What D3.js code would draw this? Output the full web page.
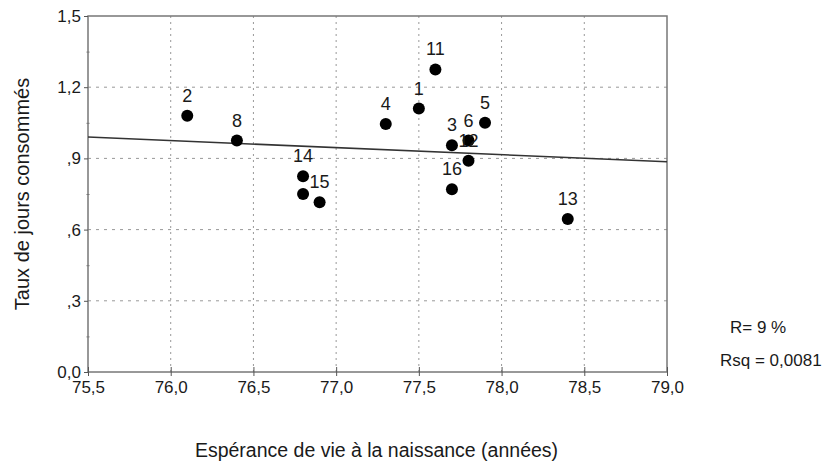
<!DOCTYPE html>
<html><head><meta charset="utf-8">
<script src="https://cdn.jsdelivr.net/npm/d3@7"></script>
<style>body{margin:0;background:#fff}text{font-family:"Liberation Sans",Arial,sans-serif;fill:#1a1a1a}</style>
</head><body><svg id="c" width="824" height="469"></svg>
<script>
const ids      = ["1","2","3","4","5","6","8","11","12","13","14","","15","16"];
const lifeExp  = [77.5,76.1,77.7,77.3,77.9,77.8,76.4,77.6,77.8,78.4,76.8,76.8,76.9,77.7];
const rate     = [1.11,1.08,0.955,1.045,1.05,0.975,0.975,1.275,0.89,0.645,0.825,0.75,0.715,0.77];
const fitX     = [75.5,79.0];
const fitY     = [0.99,0.886];
const xTicks   = [75.5,76.0,76.5,77.0,77.5,78.0,78.5,79.0];
const xTickLab = ["75,5","76,0","76,5","77,0","77,5","78,0","78,5","79,0"];
const yTicks   = [0,0.3,0.6,0.9,1.2,1.5];
const yTickLab = ["0,0",",3",",6",",9","1,2","1,5"];
const yMinor   = [0.15,0.45,0.75,1.05,1.35];
const stats    = ["R= 9 %","Rsq = 0,0081"];

const svg = d3.select("#c");
const L=88,R=667,T=16,B=372;
const x = d3.scaleLinear().domain([75.5,79]).range([L,R]);
const y = d3.scaleLinear().domain([0,1.5]).range([B,T]);
const g = svg.append("g");

// grid
g.selectAll(".vg").data(xTicks.slice(1,-1)).join("line")
 .attr("x1",d=>x(d)).attr("x2",d=>x(d)).attr("y1",T).attr("y2",B)
 .attr("stroke","#999").attr("stroke-width",1).attr("stroke-dasharray","2,4");
g.selectAll(".hg").data(yTicks.slice(1,-1)).join("line")
 .attr("x1",L).attr("x2",R).attr("y1",d=>y(d)).attr("y2",d=>y(d))
 .attr("stroke","#999").attr("stroke-width",1).attr("stroke-dasharray","3,5");

// frame
g.append("rect").attr("x",L).attr("y",T).attr("width",R-L).attr("height",B-T)
 .attr("fill","none").attr("stroke","#777").attr("stroke-width",1.5);

// axes
const ya = d3.axisLeft(y).tickValues(yTicks).tickFormat((d,i)=>yTickLab[i]).tickSize(4).tickPadding(3);
const ay = svg.append("g").attr("transform",`translate(${L},0)`).call(ya);
ay.select(".domain").remove();
ay.selectAll("line").attr("stroke","#555");
ay.selectAll("text").style("font-size","17px");
const yminor = d3.axisLeft(y).tickValues(yMinor).tickFormat("").tickSizeInner(3).tickSizeOuter(0);
const aym = svg.append("g").attr("transform",`translate(${L+1.5},0)`).call(yminor);
aym.select(".domain").remove(); aym.selectAll("line").attr("stroke","#777");

const xa = d3.axisBottom(x).tickValues(xTicks).tickFormat((d,i)=>xTickLab[i]).tickSize(4).tickPadding(5);
const ax = svg.append("g").attr("transform",`translate(0,${B})`).call(xa);
ax.select(".domain").remove();
ax.selectAll("line").attr("y1",-5).attr("stroke","#555");
ax.selectAll("text").style("font-size","17px");

// fit line
g.append("line").attr("x1",x(fitX[0])).attr("y1",y(fitY[0])).attr("x2",x(fitX[1])).attr("y2",y(fitY[1]))
 .attr("stroke","#333").attr("stroke-width",1.6);

// points
const pts = ids.map((id,i)=>({id,x:lifeExp[i],y:rate[i]}));
g.selectAll("circle").data(pts).join("circle")
 .attr("cx",d=>x(d.x)).attr("cy",d=>y(d.y)).attr("r",6).attr("fill","#000");
g.selectAll(".lab").data(pts).join("text")
 .attr("x",d=>x(d.x)).attr("y",d=>y(d.y)-14).attr("text-anchor","middle")
 .style("font-size","18px").text(d=>d.id);

// titles
svg.append("text").attr("x",(L+R)/2-1).attr("y",457).attr("text-anchor","middle")
 .style("font-size","19.5px").text("Espérance de vie à la naissance (années)");
svg.append("text").attr("transform",`translate(29,${(T+B)/2}) rotate(-90)`).attr("text-anchor","middle")
 .style("font-size","20px").text("Taux de jours consommés");
svg.append("text").attr("x",730).attr("y",333).style("font-size","17px").text(stats[0]);
svg.append("text").attr("x",720).attr("y",366).style("font-size","17px").text(stats[1]);
</script></body></html>
